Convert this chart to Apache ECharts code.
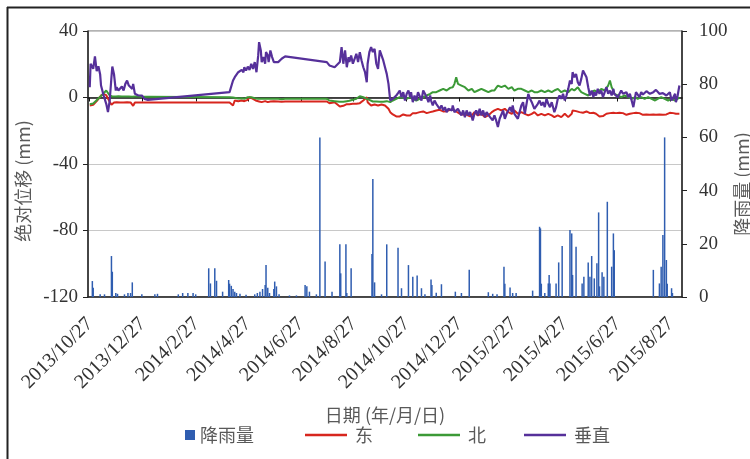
<!DOCTYPE html>
<html>
<head>
<meta charset="utf-8">
<script src="https://cdn.jsdelivr.net/npm/echarts@6/dist/echarts.min.js"></script>
<style>
  html, body { margin: 0; padding: 0; background: #fff; }
  #chart { width: 750px; height: 459px; }
</style>
</head>
<body>
<div id="chart"></div>
<script>
// Monitoring start date; observation days are counted from here.
const startDate = [2013, 10, 27];

// Date labels along the time axis (every two months).
const xTickLabels = [
  '2013/10/27', '2013/12/27', '2014/2/27', '2014/4/27', '2014/6/27', '2014/8/27',
  '2014/10/27', '2014/12/27', '2015/2/27', '2015/4/27', '2015/6/27', '2015/8/27'
];

// GNSS observation days (days after start) and displacement in mm.
const obsDay = [
  0, 1, 4, 6, 8, 10, 12, 13, 16, 19, 21, 23, 25, 26, 28, 30, 31, 33, 35, 37, 39, 41, 43, 45, 47, 49, 50, 52, 54, 56, 58, 60, 63, 67,
  161, 165,
  167, 171, 173, 175, 177, 178, 180, 182, 184, 186, 188, 190, 192, 194, 195, 197, 198, 200, 202, 203, 205, 206, 208, 210, 212, 214, 217, 221, 225,
  273, 276, 282, 284, 288, 290, 292, 294, 296, 298, 299, 301, 303, 305, 307, 309, 311, 313, 315, 317, 319, 320, 322, 324, 326, 328, 330, 332, 334, 336, 338, 340, 342, 344, 346,
  349, 351, 353, 355, 357, 359, 361, 363, 365, 367, 369, 370, 372, 374, 376, 378, 380, 382, 384, 386,
  388, 390, 392, 393, 395, 397, 399, 401, 403, 405, 407, 409, 411, 413, 415, 417, 418, 420, 422, 424,
  426, 428, 430, 432, 434, 436, 438, 440, 441, 443, 445, 447, 449, 451, 453, 455, 457, 459, 461, 463,
  464, 466, 468, 470, 472, 474, 476, 478, 480, 482, 484, 486, 487, 489, 491, 493, 495, 497, 499, 501,
  503, 505, 507, 509, 510, 512,
  514, 516, 518, 520, 522, 524, 526, 528, 530, 532, 534, 535, 537, 539, 541, 543, 545, 547, 549, 551,
  553, 555, 556, 558, 560, 562, 564, 566, 568, 570, 572, 574, 576, 578, 580, 581, 583, 585, 587, 589,
  591, 593, 595, 597, 599, 601, 603, 604, 606, 608, 610, 612, 614, 616, 618, 620, 622, 624, 626, 628,
  629, 631, 633, 635, 637, 639, 641, 643, 645, 647, 649, 651, 652, 654, 656, 658, 660, 662, 664, 666,
  668, 670, 672, 674, 675, 677, 679
];

const eastMm = [
  -4.8, -4.8, -4.4, -3.8, -2.2, -0.8, 0.4, 1.2, 2.0, 1.4, 0.2, -2.6, -4.4, -3.6, -3.0, -3.2, -2.8, -3.0, -3.0, -2.8, -3.0, -3.0, -2.8, -3.0, -3.0, -3.2, -5.0, -3.0, -2.8, -3.0, -3.0, -3.0, -3.0, -3.0,
  -3.0, -4.8,
  -1.8, -2.2, -2.0, -1.8, -2.0, -2.2, -1.8, -1.4, 0.2, 1.2, -0.8, -1.8, -2.0, -2.2, -2.4, -2.6, -2.8, -2.4, -2.2, -2.4, -2.8, -2.6, -2.4, -2.4, -2.2, -2.4, -2.4, -2.6, -2.4,
  -2.4, -3.4, -2.8, -3.8, -5.4, -6.2, -5.0, -4.2, -4.0, -3.8, -4.0, -4.2, -3.8, -3.4, -3.8, -4.2, -3.4, -2.8, -1.8, -0.8, 0.2, -2.8, -3.8, -4.8, -4.4, -4.2, -4.6, -4.8, -4.4, -4.2, -4.6, -4.8, -5.4, -6.8, -8.8,
  -10.2, -10.8, -11.4, -11.8, -11.4, -10.8, -10.2, -9.8, -10.8, -11.8, -10.8, -9.8, -9.4, -8.8, -9.4, -9.8, -8.8, -7.8, -8.4, -8.8,
  -9.4, -9.8, -8.8, -7.8, -8.4, -8.8, -7.8, -6.8, -7.4, -7.8, -8.4, -8.8, -8.2, -7.8, -7.4, -6.8, -7.4, -7.8, -8.4, -8.8,
  -9.8, -10.8, -10.2, -9.8, -10.4, -10.8, -11.4, -11.8, -10.2, -8.8, -9.8, -10.8, -10.2, -9.8, -10.8, -11.8, -11.2, -10.8, -9.8, -8.8,
  -8.2, -7.8, -7.4, -6.8, -7.4, -7.8, -7.2, -6.8, -7.8, -8.8, -9.4, -9.8, -8.8, -7.8, -8.8, -9.8, -9.4, -8.8, -9.4, -9.8,
  -10.4, -10.8, -10.2, -9.8, -9.4, -8.8,
  -9.8, -10.8, -10.2, -9.8, -10.4, -10.8, -10.2, -9.8, -10.4, -10.8, -11.4, -11.8, -11.2, -10.8, -11.4, -11.8, -10.8, -9.8, -10.8, -11.8,
  -10.8, -9.8, -7.8, -8.8, -8.2, -7.8, -8.8, -9.8, -9.2, -8.8, -8.4, -8.8, -9.4, -9.8, -9.2, -8.8, -9.8, -10.8, -11.4, -11.8,
  -11.2, -10.8, -9.8, -8.8, -9.4, -9.8, -9.2, -8.8, -9.4, -9.8, -9.2, -8.8, -9.4, -9.8, -10.4, -10.8, -9.8, -8.8, -9.4, -9.8,
  -9.2, -8.8, -9.4, -9.8, -10.4, -10.8, -10.2, -9.8, -10.4, -10.8, -10.2, -9.8, -10.4, -10.8, -10.2, -9.8, -10.4, -10.8, -10.2, -9.8,
  -9.2, -8.8, -9.4, -9.8, -9.8, -9.8, -9.8
];

const northMm = [
  -4.0, -4.2, -3.6, -3.0, -1.6, -0.6, 0.4, 1.4, 2.6, 4.2, 3.0, 1.2, 0.6, 0.6, 0.8, 0.6, 0.6, 0.8, 0.6, 0.6, 0.8, 0.6, 0.6, 0.6, 0.6, 0.4, 0.4, 0.6, 0.4, 0.6, 0.4, 0.4, 0.4, 0.4,
  0.2, 0.0,
  -0.8, -0.6, -0.8, -0.4, -0.6, -0.8, -0.4, 0.2, 0.6, 0.2, -0.2, -0.4, -0.6, -0.8, -0.6, -0.8, -1.0, -0.8, -0.6, -0.8, -1.0, -0.8, -0.6, -0.8, -1.0, -0.8, -0.8, -1.0, -0.8,
  -0.8, -1.8, -2.2, -2.4, -2.6, -2.8, -2.6, -2.4, -2.2, -2.2, -2.0, -1.8, -1.4, -1.8, -0.8, 0.2, 0.8, 1.2, 0.2, -0.8, -0.8, -0.8, -1.4, -1.8, -2.4, -2.8, -2.4, -2.2, -2.6, -2.8, -2.6, -2.4, -2.2, -2.6, -2.8,
  -1.8, -1.4, -0.8, -0.4, 0.2, 0.2, -0.2, -0.8, -0.8, -0.2, 0.2, -0.4, -0.8, -1.2, -1.8, -1.2, -0.8, -0.4, 0.2, 0.6,
  1.2, 1.6, 2.2, 2.6, 3.2, 2.8, 3.2, 3.8, 4.2, 4.6, 5.2, 4.6, 4.2, 5.2, 5.8, 6.2, 6.2, 8.2, 12.2, 8.2,
  9.2, 7.2, 6.6, 6.2, 5.2, 4.2, 4.6, 5.2, 4.2, 3.2, 3.8, 4.2, 4.6, 5.2, 4.6, 4.2, 3.6, 3.2, 3.8, 4.2,
  4.6, 4.2, 5.8, 7.2, 6.6, 6.2, 7.2, 7.2, 6.2, 5.2, 5.8, 6.2, 5.2, 4.2, 4.6, 5.2, 5.2, 5.2, 4.6, 4.2,
  3.8, 3.2, 3.6, 4.2, 3.6, 3.2,
  3.6, 3.2, 3.8, 4.2, 3.6, 3.2, 3.8, 4.2, 3.6, 3.2, 3.8, 4.2, 4.6, 5.2, 4.2, 3.2, 3.8, 4.2, 3.6, 3.2,
  4.2, 5.2, 4.6, 4.2, 5.2, 6.2, 4.6, 3.2, 2.6, 2.2, 1.6, 1.2, 2.2, 3.2, 3.6, 4.2, 3.6, 3.2, 4.2, 5.2,
  4.6, 4.2, 5.8, 7.2, 10.2, 6.2, 4.2, 2.2, 1.6, 1.2, 0.6, 0.2, 0.6, 1.2, 0.6, 0.2, -0.4, -0.8, -0.2, 0.2,
  -0.4, -0.8, -0.2, 0.2, -0.4, -0.8, -0.2, 0.2, -0.4, -0.8, -1.4, -1.8, -1.2, -0.8, -0.2, 0.2, -0.4, -0.8, -1.4, -1.8,
  -1.2, -0.8, -1.4, -1.8, -1.2, -0.8, 0.2
];

const verticalMm = [
  6.2, 20.3, 17.3, 24.7, 15.8, 18.8, 13.8, 7.2, 1.2, -3.8, -8.8, -1.8, 12.2, 18.6, 13.8, 4.2, 6.2, 4.2, 5.2, 6.6, 4.2, 8.2, 10.2, 7.2, 8.2, 5.2, 8.2, 2.2, 3.2, 1.2, 2.2, 1.2, -0.8, -1.4,
  3.2, 10.2,
  12.2, 15.2, 14.2, 16.6, 15.2, 18.2, 16.2, 18.6, 16.6, 20.3, 17.2, 21.3, 15.2, 25.3, 33.3, 28.3, 21.3, 24.3, 20.3, 27.3, 25.3, 21.3, 28.3, 24.3, 21.3, 20.3, 21.3, 23.3, 24.7,
  21.3, 19.3, 18.2, 19.3, 21.3, 30.3, 20.3, 28.3, 18.2, 24.3, 21.3, 25.3, 20.3, 23.3, 26.3, 21.3, 27.3, 22.3, 18.2, 15.2, 9.2, 20.3, 27.3, 30.3, 27.3, 29.3, 20.3, 17.2, 28.3, 25.3, 22.3, 18.2, 14.2, 8.2, -1.8,
  -0.8, 0.2, 1.2, 2.6, 4.2, 0.2, 3.2, -1.8, 2.2, 4.2, 0.2, 3.2, -2.8, 1.2, -1.8, 3.2, 4.2, -1.8, 4.2, 2.2,
  0.2, -2.8, 1.2, -1.8, -4.8, -1.8, -3.8, -2.8, -6.8, -4.8, -7.8, -5.8, -8.8, -6.8, -7.4, -7.8, -4.8, -8.8, -7.8, -6.8,
  -8.8, -10.8, -7.8, -11.8, -7.8, -10.8, -8.8, -11.8, -13.8, -9.8, -7.8, -10.8, -6.8, -10.8, -7.8, -11.8, -8.8, -7.8, -11.8, -10.8,
  -13.8, -10.8, -13.8, -17.8, -12.8, -11.8, -7.8, -12.8, -9.8, -7.8, -5.8, -8.8, -4.8, -9.8, -8.8, -12.8, -8.8, -4.8, -2.8, -9.8,
  -8.8, 2.2, -0.8, -2.8, -1.8, -6.8,
  -7.8, -3.8, -1.8, -4.8, -2.8, -5.8, -0.8, -3.8, -5.8, -2.8, -6.8, -8.8, -5.8, -0.8, 1.2, -0.8, 2.2, -1.8, 1.2, 5.2,
  10.2, 8.2, 15.2, 12.2, 14.2, 9.2, 7.2, 11.2, 16.2, 17.2, 12.2, 6.2, 1.2, 4.2, 0.2, 3.2, 1.2, 5.2, 2.2, 4.2,
  0.2, 3.2, 6.2, 2.2, 4.2, 1.2, 5.2, 2.2, 3.2, 0.2, 1.2, 4.2, 2.2, 1.2, 3.2, 0.2, 2.2, -1.8, -5.8, 0.2,
  3.2, 4.2, 0.2, 3.2, 1.8, 2.2, 3.8, 4.2, 2.2, 1.2, 3.2, 3.2, 4.6, 4.2, 2.2, 1.2, 2.6, 3.2, 1.2, 0.2,
  3.2, -1.8, 0.2, 2.2, -2.8, 1.2, 7.2
];

// Daily rainfall (days after start) in mm.
const rainDay = [
  3, 4, 12, 17, 25, 26, 30, 32, 40, 44, 47, 49, 60, 75, 78, 102, 107, 113, 119, 122,
  137, 139, 144, 146, 153, 160, 161, 163, 165, 167, 169, 173, 180, 190, 193, 196, 199, 202, 203, 205,
  207, 212, 213, 215, 218, 230, 238, 248, 250, 253, 261, 265, 271, 279, 288, 289, 295, 296, 301, 325,
  326, 328, 336, 342, 355, 359, 367, 372, 377, 382, 386, 393, 394, 399, 405, 421, 428, 437, 459, 464,
  469, 477, 478, 484, 487, 491, 510, 518, 519, 520, 524, 528, 529, 530, 537, 540, 544, 553, 555, 556,
  560, 567, 569, 574, 576, 578, 581, 584, 586, 587, 590, 592, 596, 601, 603, 604, 649, 656, 658, 660,
  662, 664, 665, 670, 671
];
const rainMm = [
  6.0, 3.5, 1.0, 1.0, 15.4, 9.5, 1.5, 1.2, 1.0, 1.5, 1.5, 5.5, 1.0, 1.0, 1.2, 1.0, 1.5, 1.5, 1.5, 1.0,
  10.8, 5.1, 10.8, 6.1, 2.0, 6.4, 5.0, 4.2, 3.0, 2.0, 1.5, 1.2, 0.8, 1.0, 1.5, 2.0, 3.0, 4.5, 12.0, 3.5,
  1.5, 3.0, 5.8, 4.0, 1.0, 0.6, 0.6, 4.5, 4.0, 2.0, 1.0, 60.0, 13.3, 2.0, 19.8, 8.9, 19.8, 1.5, 10.8, 16.2,
  44.4, 5.5, 1.0, 19.8, 18.5, 3.3, 12.0, 7.6, 8.1, 3.3, 1.0, 6.6, 4.5, 1.6, 4.8, 2.0, 1.5, 10.2, 1.8, 1.2,
  1.0, 11.4, 5.0, 3.6, 1.5, 1.5, 2.4, 26.4, 25.8, 5.0, 1.5, 5.1, 8.3, 5.1, 5.1, 13.0, 19.2, 25.2, 23.9, 8.3,
  18.9, 5.1, 7.6, 13.0, 7.6, 15.4, 7.0, 12.7, 31.8, 4.0, 9.3, 7.6, 35.8, 11.4, 23.9, 17.6, 10.2, 5.1, 11.4, 23.3,
  60.0, 13.9, 5.0, 3.3, 1.5
];

const dayToTime = d => new Date(startDate[0], startDate[1] - 1, startDate[2] + d).getTime();
const labelToTime = s => {
  const [y, m, d] = s.split('/').map(Number);
  return new Date(y, m - 1, d).getTime();
};
const fmtDate = v => {
  const d = new Date(v);
  return d.getFullYear() + '/' + (d.getMonth() + 1) + '/' + d.getDate();
};

const tickTimes = xTickLabels.map(labelToTime);
const xMin = new Date(2013, 9, 25).getTime();
const xMax = new Date(2015, 8, 9).getTime();

const pairs = vals => obsDay.map((d, i) => [dayToTime(d), vals[i]]);
const rainData = rainDay.map((d, i) => [dayToTime(d), rainMm[i]]);

const serif = 'Liberation Serif, Times New Roman, serif';
const cjk = 'Noto Sans CJK SC, sans-serif';
const nameStyle = { fontFamily: cjk, fontSize: 18, color: '#595959' };
const legendText = { fontFamily: cjk, fontSize: 18, color: '#595959' };
const lineLegend = (name, left) => ({
  data: [name], left: left, top: 421, icon: 'rect',
  itemWidth: 42, itemHeight: 2.5,
  textStyle: Object.assign({ padding: [0, 0, 0, 3] }, legendText)
});

const chart = echarts.init(document.getElementById('chart'), null, { renderer: 'canvas' });
chart.setOption({
  animation: false,
  backgroundColor: '#fff',
  grid: {
    left: 88, right: 68, top: 31, bottom: 162,
    outerBoundsMode: 'none',
    show: true, borderColor: '#666', borderWidth: 1, backgroundColor: 'transparent'
  },
  graphic: [
    { type: 'line', shape: { x1: 7, y1: 7.5, x2: 750, y2: 7.5 }, style: { stroke: '#222', lineWidth: 2 } },
    { type: 'line', shape: { x1: 7.5, y1: 7, x2: 7.5, y2: 459 }, style: { stroke: '#222', lineWidth: 2 } }
  ],
  legend: [
    {
      data: ['降雨量'], left: 180, top: 421, icon: 'rect',
      itemWidth: 10, itemHeight: 10,
      textStyle: legendText
    },
    lineLegend('东', 300),
    lineLegend('北', 413),
    lineLegend('垂直', 519)
  ],
  xAxis: [
    {
      type: 'value', min: xMin, max: xMax, position: 'bottom',
      axisLine: { onZero: false, lineStyle: { color: '#222', width: 1.5 } },
      axisTick: { show: false },
      axisLabel: {
        customValues: tickTimes, rotate: 45, margin: 24, hideOverlap: false,
        fontFamily: serif, fontSize: 20, color: '#333', formatter: fmtDate
      },
      splitLine: { show: false },
      name: '日期 (年/月/日)', nameLocation: 'middle', nameGap: 109, nameMoveOverlap: false,
      nameTextStyle: nameStyle
    },
    {
      type: 'value', min: xMin, max: xMax, position: 'bottom',
      axisLine: { onZero: true, onZeroAxisIndex: 0, lineStyle: { color: '#111', width: 1.5 } },
      axisTick: { show: true, customValues: tickTimes, length: 4, lineStyle: { color: '#111' } },
      axisLabel: { show: false },
      splitLine: { show: false }
    }
  ],
  yAxis: [
    {
      type: 'value', min: -120, max: 40, interval: 40, position: 'left',
      axisLine: { show: true, onZero: false, lineStyle: { color: '#222', width: 1.5 } },
      axisTick: { show: true, length: 5, lineStyle: { color: '#222' } },
      axisLabel: { margin: 10, fontFamily: serif, fontSize: 19, color: '#333' },
      splitLine: { show: true, lineStyle: { color: '#c8c8c8', width: 1 } },
      name: '绝对位移 (mm)', nameLocation: 'middle', nameGap: 56, nameRotate: 90, nameMoveOverlap: false,
      nameTextStyle: Object.assign({ padding: [0, 34, 0, 0] }, nameStyle)
    },
    {
      type: 'value', min: 0, max: 100, interval: 20, position: 'right',
      axisLine: { show: true, onZero: false, lineStyle: { color: '#222', width: 1.5 } },
      axisTick: { show: true, length: 5, lineStyle: { color: '#222' } },
      axisLabel: { margin: 17, fontFamily: serif, fontSize: 19, color: '#333' },
      splitLine: { show: false },
      name: '降雨量 (mm)', nameLocation: 'middle', nameGap: 51, nameRotate: 90, nameMoveOverlap: false,
      nameTextStyle: Object.assign({ padding: [0, 40, 0, 0] }, nameStyle)
    }
  ],
  series: [
    {
      name: '降雨量', type: 'bar', xAxisIndex: 0, yAxisIndex: 1, data: rainData,
      barWidth: 1.5, itemStyle: { color: '#2f5db0' }, z: 1
    },
    {
      name: '东', type: 'line', xAxisIndex: 0, yAxisIndex: 0, data: pairs(eastMm),
      symbol: 'none', lineStyle: { color: '#d7261e', width: 2 }, itemStyle: { color: '#d7261e' }, z: 3
    },
    {
      name: '北', type: 'line', xAxisIndex: 0, yAxisIndex: 0, data: pairs(northMm),
      symbol: 'none', lineStyle: { color: '#3c9a37', width: 2 }, itemStyle: { color: '#3c9a37' }, z: 4
    },
    {
      name: '垂直', type: 'line', xAxisIndex: 0, yAxisIndex: 0, data: pairs(verticalMm),
      symbol: 'none', lineStyle: { color: '#56309a', width: 2.2 }, itemStyle: { color: '#56309a' }, z: 5
    }
  ]
});
</script>
</body>
</html>
